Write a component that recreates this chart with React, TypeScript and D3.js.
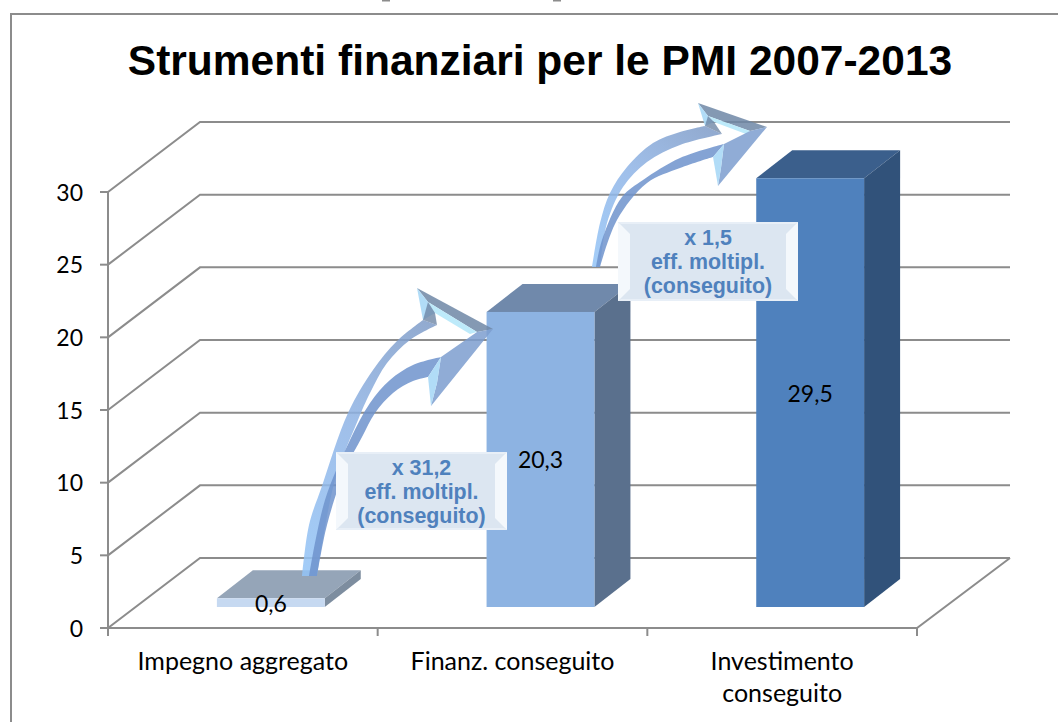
import React from "react";
import * as d3 from "d3";

const categories = ["Impegno aggregato", "Finanz. conseguito", "Investimento conseguito"];
const categoryLines = [["Impegno aggregato"], ["Finanz. conseguito"], ["Investimento", "conseguito"]];
const values = [0.6, 20.3, 29.5];
const valueLabels = ["0,6", "20,3", "29,5"];
const yTicks = [0, 5, 10, 15, 20, 25, 30];
const frontColors = ["#c6d9f1", "#8db3e2", "#4f81bd"];
const topColors = ["#95a5b8", "#7089ab", "#3b5f8c"];
const sideColors = ["#7d8d9f", "#5a708d", "#31527a"];
const boxTexts = [["x 31,2", "eff. moltipl.", "(conseguito)"], ["x 1,5", "eff. moltipl.", "(conseguito)"]];

type P = [number, number];
const arrowShapes: { upper: P[]; upperIn: P[]; lowerTop: P[]; lowerBot: P[]; tip: P; barbTop: P; barbLow: P; bandA: P; bandB: P; stripA: P; stripB: P; notchTop: P; notchLow: P; lowMid: P }[] = [
  {
    upper: [[302, 576], [309, 525], [322, 486], [348, 413], [373, 370], [397, 341], [423, 320]],
    upperIn: [[437, 325], [410, 340], [387, 363], [370, 393], [358, 420], [335, 480], [317, 576]],
    lowerTop: [[441, 357], [413, 365], [390, 380], [370, 403], [350, 440], [325, 500], [309, 576]],
    lowerBot: [[317, 576], [327, 525], [345, 470], [362, 437], [375, 413], [393, 393], [413, 381], [428, 377]],
    tip: [493, 329], barbTop: [417, 288], barbLow: [431, 406],
    bandA: [428, 302], bandB: [477, 332], stripA: [435, 313], stripB: [470, 334],
    notchTop: [437, 325], notchLow: [441, 357], lowMid: [437, 383],
  },
  {
    upper: [[592, 267], [600, 223], [610, 193], [627, 167], [653, 143], [680, 132], [705, 126]],
    upperIn: [[722, 134], [680, 145], [647, 162], [623, 187], [607, 223], [600, 267]],
    lowerTop: [[724, 144], [680, 158], [643, 180], [622, 197], [602, 240], [596, 267]],
    lowerBot: [[600, 267], [617, 220], [647, 183], [680, 168], [713, 157]],
    tip: [767, 127], barbTop: [698, 103], barbLow: [718, 186],
    bandA: [708, 116], bandB: [750, 131], stripA: [714, 122], stripB: [746, 134],
    notchTop: [722, 134], notchLow: [724, 144], lowMid: [721, 168],
  },
];
const boxRects = [
  { x: 336, y: 452, w: 171, h: 78 },
  { x: 618, y: 222, w: 180, h: 79 },
];
const clippedMarkXs = [382, 553];

const W = 1058;
const H = 722;
const axisLeft = 108;
const axisRight = 917;
const floorY = 628;
const topY = 192;
const depthX = 92;
const depthY = -70;
const barDX = 36;
const barDY = -28;
const barInsetX = 28;
const barInsetY = 21;
const gridColor = "#8c8c8c";
const font = "Lato, sans-serif";
const boldFont = "'Liberation Sans', Arial, sans-serif";

const poly = (pts: P[]) => "M" + pts.map((p) => p.join(",")).join("L") + "Z";
const curve = d3.line<P>().curve(d3.curveCatmullRom.alpha(0.5));

function bandPath(a: P[], b: P[]) {
  const ap = curve(a) as string;
  const bp = (curve(b) as string).replace(/^M/, "L");
  return ap + bp + "Z";
}

function Arrow({ s, id }: { s: (typeof arrowShapes)[number]; id: string }) {
  const base = s.upper[0];
  const top = s.upper[s.upper.length - 1];
  const lowEnd = s.lowerBot[s.lowerBot.length - 1];
  return (
    <g>
      <defs>
        <linearGradient id={id} gradientUnits="userSpaceOnUse" x1={base[0]} y1={base[1]} x2={top[0]} y2={top[1]}>
          <stop offset="0" stopColor="#93c4f7" />
          <stop offset="0.55" stopColor="#8fb4e6" />
          <stop offset="1" stopColor="#7f9cc8" />
        </linearGradient>
      </defs>
      <path d={bandPath(s.upper, s.upperIn)} fill={`url(#${id})`} opacity={0.85} />
      <path d={bandPath(s.lowerBot, s.lowerTop)} fill="#6f93cc" opacity={0.85} />
      <path d={poly([s.barbTop, s.tip, s.bandB, s.bandA])} fill="#6f87a6" opacity={0.85} />
      <path d={poly([s.bandA, s.bandB, s.stripB, s.stripA])} fill="#bdeafa" />
      <path d={poly([s.barbTop, s.bandA, s.stripA, top])} fill="#a9d8f6" opacity={0.9} />
      <path d={poly([s.bandA, s.stripA, s.notchTop, top])} fill="#6f87a6" opacity={0.8} />
      <path d={poly([s.tip, s.bandB, s.notchLow, s.lowMid, s.barbLow])} fill="#7c9dcf" opacity={0.85} />
      <path d={poly([s.notchLow, s.lowMid, s.barbLow, lowEnd])} fill="#a9d8f6" opacity={0.9} />
    </g>
  );
}

function TextBox({ r, lines }: { r: (typeof boxRects)[number]; lines: string[] }) {
  const b = 12;
  const { x, y, w, h } = r;
  return (
    <g>
      <rect x={x} y={y} width={w} height={h} fill="#dce6f1" />
      <path d={poly([[x, y], [x + b, y + b], [x + b, y + h - b], [x, y + h]])} fill="#f4f8fc" />
      <path d={poly([[x + w, y], [x + w - b, y + b], [x + w - b, y + h - b], [x + w, y + h]])} fill="#f4f8fc" />
      <path d={poly([[x, y], [x + w, y], [x + w - 3, y + 2], [x + 3, y + 2]])} fill="#e8eff7" />
      <path d={poly([[x, y + h], [x + w, y + h], [x + w - 3, y + h - 2], [x + 3, y + h - 2]])} fill="#e8eff7" />
      {lines.map((t, i) => (
        <text key={i} x={x + w / 2} y={y + 23 + i * 24} textAnchor="middle" fontFamily={boldFont} fontWeight="bold" fontSize={21.4} fill="#4f81bd">
          {t}
        </text>
      ))}
    </g>
  );
}

export default function App() {
  const y = d3.scaleLinear().domain([0, 30]).range([floorY, topY]);
  const x = d3.scaleBand<string>().domain(categories).range([axisLeft, axisRight]);
  const bw = x.bandwidth();
  const barW = bw * 0.4;
  const h = (v: number) => y(0) - y(v);

  return (
    <svg width={W} height={H} style={{ position: "absolute", left: 0, top: 0, background: "#fff" }}>
      <path d={`M11,${H}V14H${W}`} fill="none" stroke={gridColor} strokeWidth={2} />
      {clippedMarkXs.map((mx) => (
        <rect key={mx} x={mx} y={0} width={8} height={1.5} fill="#8c8c8c" />
      ))}
      <text x={540} y={75} textAnchor="middle" fontFamily={boldFont} fontWeight="bold" fontSize={42.5} fill="#000">
        Strumenti finanziari per le PMI 2007-2013
      </text>

      {yTicks.map((t) => (
        <g key={t} stroke={gridColor} strokeWidth={2} fill="none">
          <path d={`M${axisLeft},${y(t)}L${axisLeft + depthX},${y(t) + depthY}L${axisRight + depthX + 1},${y(t) + depthY}`} />
          <path d={`M${axisLeft - 8},${y(t)}L${axisLeft},${y(t)}`} />
        </g>
      ))}
      <path d={`M${axisLeft},${y(30)}V${floorY + 8}`} stroke={gridColor} strokeWidth={2} fill="none" />
      <path d={`M${axisLeft},${floorY}H${axisRight}L${axisRight + depthX + 1},${floorY + depthY}`} stroke={gridColor} strokeWidth={2} fill="none" />
      {[...categories.map((c) => x(c) as number), axisRight].map((px) => (
        <path key={px} d={`M${px},${floorY}V${floorY + 8}`} stroke={gridColor} strokeWidth={2} />
      ))}
      {yTicks.map((t) => (
        <text key={t} x={83} y={y(t) + 8.5} textAnchor="end" fontFamily={font} fontSize={23} fill="#000">
          {t}
        </text>
      ))}
      {categoryLines.map((ls, i) =>
        ls.map((l, j) => (
          <text key={l} x={(x(categories[i]) as number) + bw / 2} y={670 + j * 32} textAnchor="middle" fontFamily={font} fontSize={25} fill="#000">
            {l}
          </text>
        ))
      )}

      {values.map((v, i) => {
        const x0 = (x(categories[i]) as number) + (bw - barW) / 2 + barInsetX;
        const x1 = x0 + barW;
        const yb = floorY - barInsetY;
        const yt = yb - h(v);
        return (
          <g key={categories[i]}>
            <path d={poly([[x0, yt], [x1, yt], [x1 + barDX, yt + barDY], [x0 + barDX, yt + barDY]])} fill={topColors[i]} />
            <path d={poly([[x1, yt], [x1 + barDX, yt + barDY], [x1 + barDX, yb + barDY], [x1, yb]])} fill={sideColors[i]} />
            <rect x={x0} y={yt} width={barW} height={yb - yt} fill={frontColors[i]} />
          </g>
        );
      })}

      {arrowShapes.map((s, i) => (
        <Arrow key={i} s={s} id={`arrowGrad${i}`} />
      ))}
      {boxRects.map((r, i) => (
        <TextBox key={i} r={r} lines={boxTexts[i]} />
      ))}

      {values.map((v, i) => {
        const x0 = (x(categories[i]) as number) + bw / 2 + barInsetX;
        const yb = floorY - barInsetY;
        return (
          <text key={i} x={x0} y={yb - h(v) / 2 + 9} textAnchor="middle" fontFamily={font} fontSize={23} fill="#000">
            {valueLabels[i]}
          </text>
        );
      })}
    </svg>
  );
}
